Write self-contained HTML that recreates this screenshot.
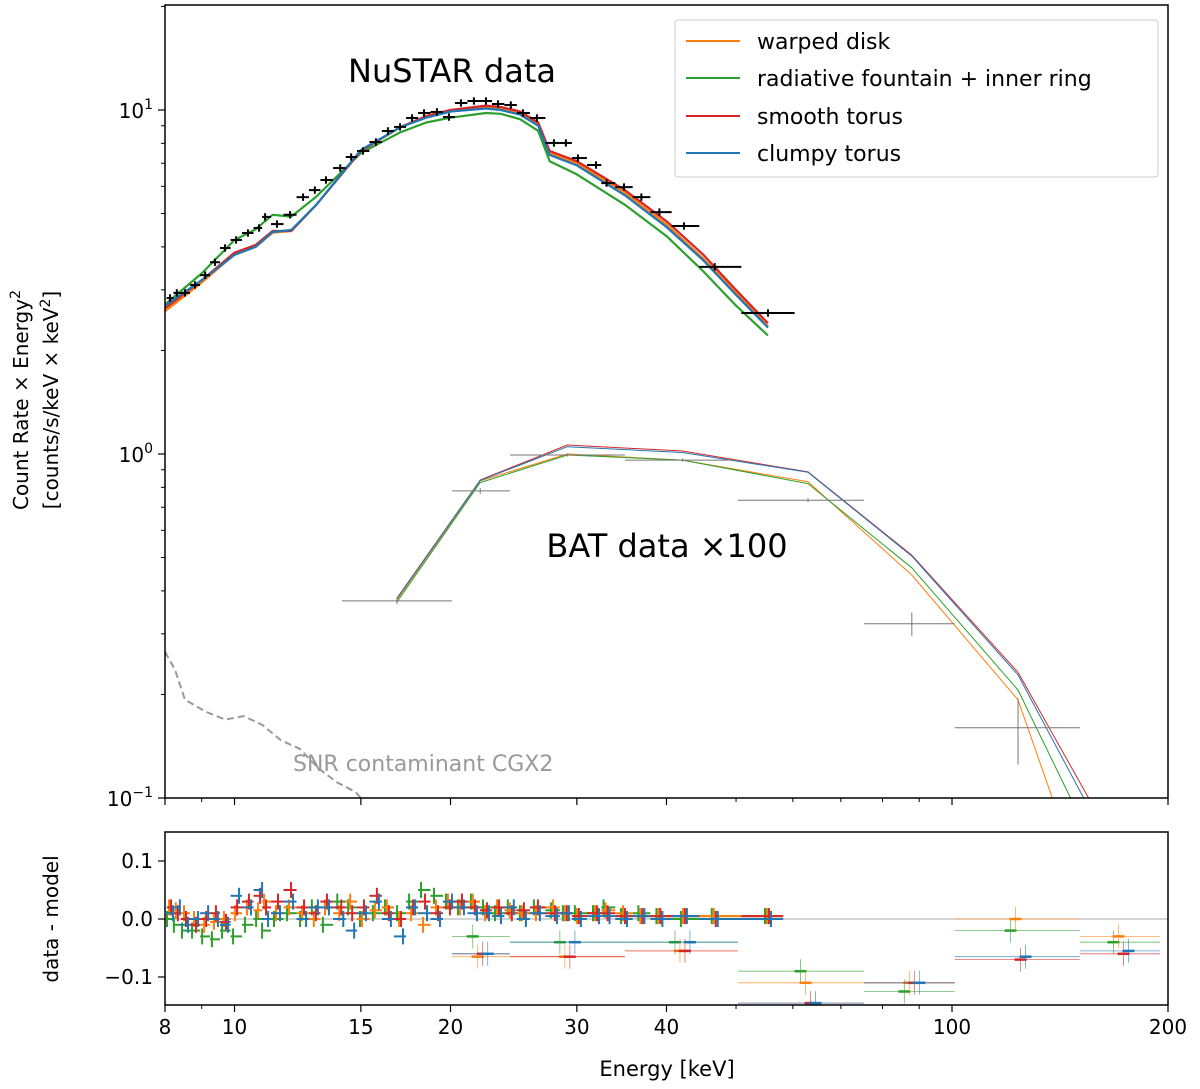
<!DOCTYPE html>
<html><head><meta charset="utf-8">
<style>
html,body{margin:0;padding:0;background:#fff;}
svg{display:block;font-family:"DejaVu Sans","Liberation Sans",sans-serif;}
</style></head>
<body>
<svg id="chart" width="1200" height="1089" viewBox="0 0 1200 1089" xmlns="http://www.w3.org/2000/svg">
<defs>
<clipPath id="clipMain"><rect x="165" y="5" width="1003" height="793"/></clipPath>
<clipPath id="clipRes"><rect x="165" y="832" width="1003" height="173"/></clipPath>
</defs>
<g id="main"></g>
<g id="res"></g>
<text x="452" y="82" font-size="32" text-anchor="middle">NuSTAR data</text>
<text x="667" y="557" font-size="32" text-anchor="middle">BAT data ×100</text>
<text x="293" y="771" font-size="22" fill="#999">SNR contaminant CGX2</text>
<text transform="translate(28,400) rotate(-90)" font-size="20" text-anchor="middle">Count Rate × Energy<tspan dy="-8" font-size="14">2</tspan></text>
<text transform="translate(58,400) rotate(-90)" font-size="20" text-anchor="middle">[counts/s/keV × keV<tspan dy="-8" font-size="14">2</tspan><tspan dy="8">]</tspan></text>
<text transform="translate(58,919) rotate(-90)" font-size="20" text-anchor="middle">data - model</text>
<text x="667" y="1076" font-size="21" text-anchor="middle">Energy [keV]</text>
<g>
<rect x="675" y="20" width="483" height="157" fill="#fff" stroke="#ccc" rx="3"/>
<line x1="686" y1="41" x2="740" y2="41" stroke="#ff7f0e" stroke-width="2"/><text x="757" y="49" font-size="22">warped disk</text>
<line x1="686" y1="78" x2="740" y2="78" stroke="#2ca02c" stroke-width="2"/><text x="757" y="86" font-size="22">radiative fountain + inner ring</text>
<line x1="686" y1="116" x2="740" y2="116" stroke="#d62728" stroke-width="2"/><text x="757" y="124" font-size="22">smooth torus</text>
<line x1="686" y1="153" x2="740" y2="153" stroke="#1f77b4" stroke-width="2"/><text x="757" y="161" font-size="22">clumpy torus</text>
</g>
</svg>
<script>
const nuE=[8.13,8.31,8.53,8.81,9.10,9.39,9.70,10.05,10.44,10.82,11.03,11.46,11.95,12.46,12.94,13.41,14.04,14.54,15.10,15.74,16.36,17.01,17.68,18.37,19.15,19.90,20.68,21.56,22.41,23.29,24.27,25.23,26.39,27.87,28.96,30.1,31.9,33.0,34.9,36.9,39.1,42.3,46.7,55.4];
const nuY=[2.84,2.94,2.94,3.10,3.31,3.61,3.97,4.19,4.39,4.54,4.89,4.66,4.96,5.58,5.85,6.26,6.78,7.30,7.60,8.07,8.69,8.93,9.48,9.80,9.87,9.54,10.48,10.62,10.62,10.41,10.34,9.80,9.48,8.02,8.02,7.25,6.92,6.13,5.97,5.58,5.05,4.60,3.50,2.57];
const modE=[8,9,10,10.7,11.3,12,13,15,17,18.5,20,22.4,23.5,25,26.5,27.5,30,35,40,45,50,55.4];
const modOrange=[2.6,3.15,3.8,4.0,4.4,4.45,5.3,7.6,8.9,9.6,10.0,10.2,10.1,9.8,9.1,7.5,7.0,5.75,4.65,3.7,2.95,2.35];
const modGreen=[2.72,3.35,4.19,4.5,4.96,4.9,5.6,7.5,8.6,9.2,9.5,9.8,9.75,9.4,8.7,7.1,6.5,5.3,4.3,3.4,2.7,2.21];
const modRed=[2.65,3.2,3.85,4.05,4.45,4.45,5.3,7.6,8.9,9.6,10.0,10.3,10.2,9.9,9.2,7.6,7.1,5.85,4.75,3.8,3.0,2.4];
const modBlue=[2.70,3.2,3.79,4.0,4.42,4.48,5.3,7.65,8.9,9.5,9.9,10.1,10.0,9.7,9.0,7.4,6.9,5.65,4.57,3.66,2.90,2.33];
const batE=[16.84,22.0,29.1,42.1,63.0,87.9,123.6];
const batLo=[14.12,20.1,24.2,35.0,50.3,75.4,100.9];
const batHi=[20.1,24.2,35.0,50.3,75.4,100.9,150.7];
const batY=[0.374,0.781,0.993,0.96,0.734,0.321,0.160];
const batErr=[0.008,0.015,0.01,0.01,0.01,0.025,0.035];
const batModE=[16.84,22.0,29.1,42.1,63.0,87.9,123.6,155];
const batOrange=[0.376,0.835,1.0,0.96,0.83,0.445,0.193,0.05];
const batGreen=[0.371,0.826,0.993,0.96,0.82,0.467,0.206,0.078];
const batRed=[0.381,0.840,1.062,1.02,0.887,0.508,0.232,0.1];
const batBlue=[0.380,0.838,1.05,1.01,0.885,0.505,0.228,0.094];
const snrE=[8.0,8.26,8.53,9.13,9.70,10.30,10.94,11.61,12.33,13.09,13.9,14.76,15.3];
const snrY=[0.266,0.236,0.193,0.178,0.169,0.173,0.163,0.147,0.139,0.122,0.111,0.104,0.095];
const resOrange=[0.02,0.015,0.01,0.0,-0.01,-0.005,0.0,0.01,0.02,0.015,0.03,0.01,0.02,0.01,0.0,0.02,0.01,0.03,0.0,0.015,0.02,0.0,0.01,-0.01,0.02,0.03,0.02,0.03,0.01,0.02,0.015,0.01,0.01,0.02,0.01,0.005,0.01,0.015,0.01,0.005,0.005,0.005,0.005,0.005];
const resGreen=[0.0,-0.01,-0.02,-0.02,-0.03,-0.035,-0.02,-0.03,-0.01,0.0,-0.02,0.0,0.01,0.0,0.02,-0.01,0.03,0.02,0.0,0.01,0.02,0.01,0.03,0.05,0.04,0.03,0.02,0.03,0.02,0.01,0.02,0.01,0.02,0.015,0.01,0.01,0.01,0.02,0.005,0.01,0.005,0.0,0.005,0.005];
const resRed=[0.02,0.01,0.0,-0.01,0.0,0.01,-0.005,0.02,0.03,0.04,0.02,0.03,0.05,0.02,0.01,0.03,0.02,0.01,0.02,0.04,0.01,0.0,0.02,0.03,0.01,0.02,0.03,0.02,0.015,0.02,0.01,0.015,0.02,0.01,0.01,0.005,0.01,0.01,0.005,0.005,0.005,0.005,0.0,0.005];
const resBlue=[0.01,0.02,-0.01,0.0,0.01,0.0,-0.01,0.04,0.02,0.05,0.0,0.01,0.03,0.0,0.02,0.02,0.0,-0.02,0.01,0.03,0.0,-0.03,0.02,0.01,0.0,0.03,0.02,0.01,0.01,0.005,0.02,0.0,0.01,0.005,0.01,0.0,0.005,0.005,0.0,0.005,0.0,0.005,0.0,0.0];
const batResE=[22.0,29.1,42.1,63.0,87.9,123.6,172];
const batResLo=[20.1,24.2,35.0,50.3,75.4,100.9,150.7];
const batResHi=[24.2,35.0,50.3,75.4,100.9,150.7,195];
const batResOrange=[-0.065,-0.065,-0.055,-0.11,-0.11,0.0,-0.03];
const batResGreen=[-0.03,-0.04,-0.04,-0.09,-0.125,-0.02,-0.04];
const batResRed=[-0.06,-0.065,-0.055,-0.145,-0.11,-0.07,-0.06];
const batResBlue=[-0.06,-0.04,-0.04,-0.145,-0.11,-0.065,-0.055];
const xTickVals=[8,10,15,20,30,40,100,200];
const xTickLabels=["8","10","15","20","30","40","100","200"];
const xMinorVals=[9,50,60,70,80,90];
const resTickVals=[0.1,0,-0.1];
const resTickLabels=["0.1","0.0","−0.1"];

const NS="http://www.w3.org/2000/svg";
const X0=165,X1=1168,Y0=5,Y1=798,R0=832,R1=1005;
const xs=e=>X0+(Math.log10(e)-Math.log10(8))/(Math.log10(200)-Math.log10(8))*(X1-X0);
const ys=v=>110-(Math.log10(v)-1)*344;
const yr=v=>919-v*580;
function mk(parent,tag,attrs){const el=document.createElementNS(NS,tag);for(const k in attrs)el.setAttribute(k,attrs[k]);parent.appendChild(el);return el;}
const main=document.getElementById('main'),res=document.getElementById('res');
const mc=mk(main,'g',{'clip-path':'url(#clipMain)'});
const rc=mk(res,'g',{'clip-path':'url(#clipRes)'});
function line(p,xsA,ysA,color,w,name,dash){
  const d=xsA.map((x,i)=>(i?'L':'M')+x.toFixed(1)+','+ysA[i].toFixed(1)).join('');
  const el=mk(p,'path',{d:d,fill:'none',stroke:color,'stroke-width':w,'stroke-linejoin':'round'});
  if(dash)el.setAttribute('stroke-dasharray',dash);
  
  
}
line(mc,snrE.map(xs),snrY.map(ys),'#999',2,'snr-contaminant-line','7,4');
const cols={orange:'#ff7f0e',green:'#2ca02c',red:'#d62728',blue:'#1f77b4'};
line(mc,modE.map(xs),modOrange.map(ys),cols.orange,2.2,'model-warped-disk');
line(mc,modE.map(xs),modGreen.map(ys),cols.green,2.2,'model-radiative-fountain');
line(mc,modE.map(xs),modRed.map(ys),cols.red,2.2,'model-smooth-torus');
line(mc,modE.map(xs),modBlue.map(ys),cols.blue,2.2,'model-clumpy-torus');
line(mc,batModE.map(xs),batOrange.map(ys),cols.orange,1,'bat-model-warped-disk');
line(mc,batModE.map(xs),batGreen.map(ys),cols.green,1,'bat-model-fountain');
line(mc,batModE.map(xs),batRed.map(ys),cols.red,1,'bat-model-smooth-torus');
line(mc,batModE.map(xs),batBlue.map(ys),cols.blue,1,'bat-model-clumpy-torus');
nuE.forEach((e,i)=>{
  const lo=i>0?Math.sqrt(nuE[i-1]*e):e*e/Math.sqrt(nuE[i+1]*e);
  const hi=i<nuE.length-1?Math.sqrt(nuE[i+1]*e):e*e/Math.sqrt(nuE[i-1]*e);
  const x=xs(e),y=ys(nuY[i]);
  const g=mk(mc,'g',{});
  
  
  mk(g,'line',{x1:xs(lo),x2:xs(hi),y1:y,y2:y,stroke:'#000','stroke-width':2});
  mk(g,'line',{x1:x,x2:x,y1:ys(nuY[i]*1.025),y2:ys(nuY[i]/1.025),stroke:'#000','stroke-width':2});
});
batE.forEach((e,i)=>{
  const x=xs(e),y=ys(batY[i]);
  const g=mk(mc,'g',{});
  
  
  mk(g,'line',{x1:xs(batLo[i]),x2:xs(batHi[i]),y1:y,y2:y,stroke:'#777','stroke-width':1});
  mk(g,'line',{x1:x,x2:x,y1:ys(batY[i]+batErr[i]),y2:ys(batY[i]-batErr[i]),stroke:'#777','stroke-width':1});
});
mk(rc,'line',{x1:X0,x2:X1,y1:yr(0),y2:yr(0),stroke:'#aaa','stroke-width':1});
const resSets=[[resGreen,cols.green],[resOrange,cols.orange],[resRed,cols.red],[resBlue,cols.blue]];
resSets.forEach(([arr,c],si)=>{
  nuE.forEach((e,i)=>{
    const lo=i>0?Math.sqrt(nuE[i-1]*e):e/1.01;
    const hi=i<nuE.length-1?Math.sqrt(nuE[i+1]*e):e*1.05;
    const x=xs(e)+(si-1.5)*2,y=yr(arr[i]);
    const g=mk(rc,'g',{});
    
    
    mk(g,'line',{x1:xs(lo),x2:xs(hi),y1:y,y2:y,stroke:c,'stroke-width':2});
    mk(g,'line',{x1:x,x2:x,y1:y-8,y2:y+8,stroke:c,'stroke-width':2});
  });
});
const batResSets=[[batResGreen,cols.green],[batResOrange,cols.orange],[batResRed,cols.red],[batResBlue,cols.blue]];
batResSets.forEach(([arr,c],si)=>{
  batResE.forEach((e,i)=>{
    const x=xs(e)+(si-1.5)*5,y=yr(arr[i]);
    const g=mk(rc,'g',{});
    
    
    mk(g,'line',{x1:xs(batResLo[i]),x2:xs(batResHi[i]),y1:y,y2:y,stroke:c,'stroke-width':0.8,opacity:0.7});
    mk(g,'line',{x1:x-6,x2:x+6,y1:y,y2:y,stroke:c,'stroke-width':2.5});
    mk(g,'line',{x1:x,x2:x,y1:y-12,y2:y+12,stroke:c,'stroke-width':0.8,opacity:0.7});
  });
});
mk(main,'rect',{x:X0,y:Y0,width:X1-X0,height:Y1-Y0,fill:'none',stroke:'#000','stroke-width':1.5});
mk(res,'rect',{x:X0,y:R0,width:X1-X0,height:R1-R0,fill:'none',stroke:'#000','stroke-width':1.5});
xTickVals.forEach((v,i)=>{
  const x=xs(v);
  mk(main,'line',{x1:x,x2:x,y1:Y1,y2:Y1+7,stroke:'#000','stroke-width':1.2});
  mk(res,'line',{x1:x,x2:x,y1:R1,y2:R1+7,stroke:'#000','stroke-width':1.2});
  const t=mk(res,'text',{x:x,y:R1+29,'font-size':20,'text-anchor':'middle'});
  t.textContent=xTickLabels[i];
  
  
});
xMinorVals.forEach(v=>{
  const x=xs(v);
  mk(main,'line',{x1:x,x2:x,y1:Y1,y2:Y1+4,stroke:'#000','stroke-width':1});
  mk(res,'line',{x1:x,x2:x,y1:R1,y2:R1+4,stroke:'#000','stroke-width':1});
});
[[10,'1'],[1,'0'],[0.1,'−1']].forEach(([v,ex])=>{
  const y=ys(v);
  mk(main,'line',{x1:X0-7,x2:X0,y1:y,y2:y,stroke:'#000','stroke-width':1.2});
  const t=mk(main,'text',{x:X0-12,y:y+8,'font-size':20,'text-anchor':'end'});
  
  
  t.innerHTML='10<tspan dy="-9" font-size="14">'+ex+'</tspan>';
});
for(let d=-1;d<=1;d++){for(let m=2;m<=9;m++){const v=m*Math.pow(10,d);const y=ys(v);if(y<Y0||y>Y1)continue;mk(main,'line',{x1:X0-4,x2:X0,y1:y,y2:y,stroke:'#000','stroke-width':1});}}
resTickVals.forEach((v,i)=>{
  const y=yr(v);
  mk(res,'line',{x1:X0-7,x2:X0,y1:y,y2:y,stroke:'#000','stroke-width':1.2});
  const t=mk(res,'text',{x:X0-12,y:y+7,'font-size':20,'text-anchor':'end'});
  t.textContent=resTickLabels[i];
  
  
});
</script>
</body></html>
